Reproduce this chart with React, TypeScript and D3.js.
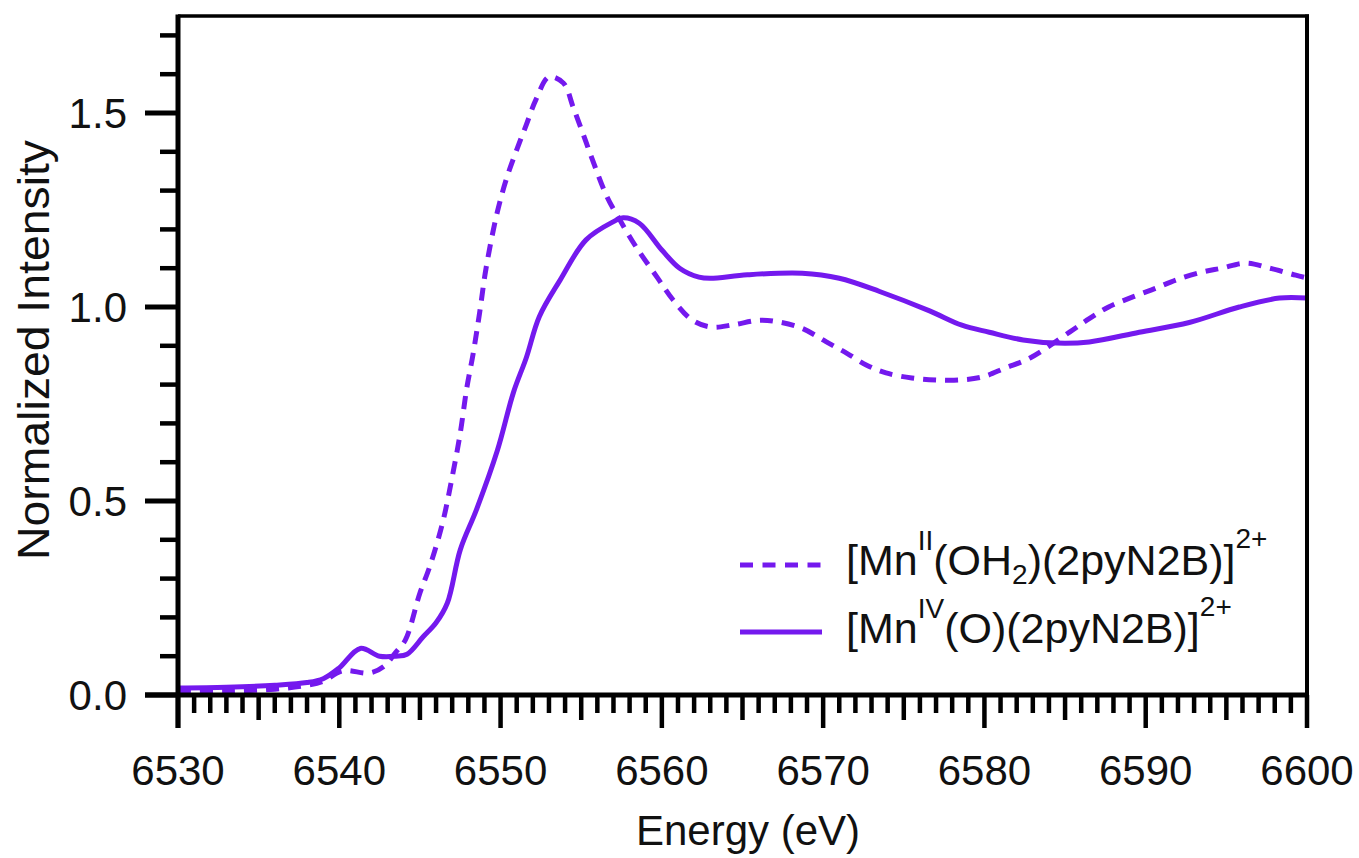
import React from "react";
import * as d3 from "d3";

// Mn K-edge XANES
const mn2Energy = [
  6530, 6533, 6536, 6538, 6539, 6540.2, 6541.9, 6542.8, 6543.5, 6544.1, 6545.0,
  6545.6, 6546.4, 6547.0, 6547.5, 6547.9, 6548.3, 6548.7, 6549.1, 6549.8, 6550.4,
  6551.0, 6551.6, 6552.2, 6553.0, 6553.9, 6554.5, 6555.1, 6555.7, 6556.6, 6557.4,
  6558.4, 6559.7, 6560.7, 6561.9, 6563.1, 6564.4, 6566.1, 6567.3, 6568.7, 6570.2,
  6571.5, 6572.7, 6573.9, 6575.5, 6577.0, 6578.5, 6579.9, 6581.3, 6582.8, 6585.3,
  6586.5, 6587.7, 6589.2, 6590.6, 6591.9, 6593.5, 6594.7, 6596.2, 6597.7, 6599.3,
  6600,
];
const mn2Intensity = [
  0.008, 0.01, 0.015, 0.025, 0.035, 0.062, 0.057, 0.075, 0.11, 0.142, 0.263,
  0.33, 0.443, 0.562, 0.675, 0.79, 0.88, 0.985, 1.1, 1.245, 1.335,
  1.405, 1.47, 1.535, 1.593, 1.577, 1.515, 1.448, 1.379, 1.284, 1.224,
  1.155, 1.077, 1.018, 0.966, 0.948, 0.954, 0.966, 0.961, 0.945, 0.91,
  0.88, 0.85, 0.83, 0.817, 0.812, 0.812, 0.82, 0.843, 0.868, 0.936,
  0.97, 1.0, 1.026, 1.048, 1.07, 1.09, 1.1, 1.113, 1.1, 1.082,
  1.075,
];

const mn4Energy = [
  6530, 6533, 6536, 6538, 6539, 6540, 6541.3, 6542.5, 6543.5, 6544.2, 6545.2,
  6546.0, 6546.7, 6547.5, 6548.5, 6549.8, 6550.8, 6551.6, 6552.4, 6553.7, 6555.3,
  6557.0, 6557.6, 6558.6, 6560.0, 6561.1, 6562.3, 6563.0, 6565.3, 6568.7, 6571.0,
  6573.5, 6576.6, 6578.6, 6580.3, 6582.4, 6584.5, 6586.5, 6589.6, 6592.7, 6595.8,
  6598.3, 6600,
];
const mn4Intensity = [
  0.018, 0.02, 0.025, 0.032, 0.042, 0.07, 0.12, 0.1, 0.1, 0.105, 0.15,
  0.186, 0.237, 0.374, 0.477, 0.63, 0.78, 0.87, 0.975, 1.07, 1.173,
  1.22, 1.23, 1.216, 1.147, 1.1, 1.077, 1.074, 1.083, 1.087, 1.074,
  1.04, 0.99, 0.953, 0.935, 0.915, 0.907, 0.91, 0.935, 0.96, 1.0,
  1.023, 1.023,
];

const xTickLabels = [6530, 6540, 6550, 6560, 6570, 6580, 6590, 6600];
const yTickLabels = [0.0, 0.5, 1.0, 1.5];

const PURPLE = "#7419ee";
const FONT = "'Liberation Sans', Arial, sans-serif";

const App = () => {
  const width = 1359;
  const height = 858;
  const left = 178;
  const right = 1307;
  const top = 16;
  const bottom = 695;

  const x = d3.scaleLinear().domain([6530, 6600]).range([left, right]);
  const y = d3.scaleLinear().domain([0, 1.75]).range([bottom, top]);

  const line = d3
    .line<[number, number]>()
    .x((d) => x(d[0]))
    .y((d) => y(d[1]))
    .curve(d3.curveCatmullRom.alpha(0.5));

  const mn2 = mn2Energy.map((e, i) => [e, mn2Intensity[i]] as [number, number]);
  const mn4 = mn4Energy.map((e, i) => [e, mn4Intensity[i]] as [number, number]);

  // minor ticks every 1 eV, medium every 5 eV
  const xMinor = d3.range(6531, 6600, 1).filter((v) => v % 5 !== 0);
  const xMid = d3.range(6535, 6600, 10);
  const yMinor = d3.range(1, 18).map((v) => v / 10).filter((v) => Math.round(v * 10) % 5 !== 0);

  return (
    <svg
      width={width}
      height={height}
      style={{ position: "absolute", left: 0, top: 0, background: "#fff" }}
      fontFamily={FONT}
    >
      {/* curves */}
      <path
        d={line(mn2) || ""}
        fill="none"
        stroke={PURPLE}
        strokeWidth={5}
        strokeDasharray="13 9"
      />
      <path
        d={line(mn4) || ""}
        fill="none"
        stroke={PURPLE}
        strokeWidth={5}
        strokeLinejoin="round"
      />

      {/* frame */}
      <line x1={left} x2={right + 2} y1={top} y2={top} stroke="#000" strokeWidth={3.5} />
      <line x1={right} x2={right} y1={top - 1.5} y2={bottom + 33} stroke="#000" strokeWidth={4} />
      <line x1={left} x2={left} y1={top - 1.5} y2={bottom + 33} stroke="#000" strokeWidth={5} />
      <line x1={left - 33} x2={right + 2} y1={bottom} y2={bottom} stroke="#000" strokeWidth={5} />

      {/* x ticks */}
      {xMinor.map((v) => (
        <line key={"xm" + v} x1={x(v)} x2={x(v)} y1={bottom} y2={bottom + 18} stroke="#000" strokeWidth={4.5} />
      ))}
      {xMid.map((v) => (
        <line key={"xd" + v} x1={x(v)} x2={x(v)} y1={bottom} y2={bottom + 25} stroke="#000" strokeWidth={4.5} />
      ))}
      {xTickLabels.map((v) => (
        <g key={"xt" + v}>
          <line x1={x(v)} x2={x(v)} y1={bottom} y2={bottom + 33} stroke="#000" strokeWidth={4.5} />
          <text x={x(v)} y={785} textAnchor="middle" fontSize={42} fill="#111">
            {v}
          </text>
        </g>
      ))}

      {/* y ticks */}
      {yMinor.map((v) => (
        <line key={"ym" + v} x1={left - 18} x2={left} y1={y(v)} y2={y(v)} stroke="#000" strokeWidth={4.5} />
      ))}
      {yTickLabels.map((v) => (
        <g key={"yt" + v}>
          <line x1={left - 33} x2={left} y1={y(v)} y2={y(v)} stroke="#000" strokeWidth={5} />
          <text x={127} y={y(v) + 15} textAnchor="end" fontSize={42} fill="#111">
            {v.toFixed(1)}
          </text>
        </g>
      ))}

      {/* axis titles */}
      <text x={748} y={845} textAnchor="middle" fontSize={42} fill="#111">
        Energy (eV)
      </text>
      <text
        transform={`translate(49, 350) rotate(-90)`}
        textAnchor="middle"
        fontSize={44}
        fill="#111"
        textLength={420}
        lengthAdjust="spacingAndGlyphs"
      >
        Normalized Intensity
      </text>

      {/* legend */}
      <line x1={740} x2={822} y1={565} y2={565} stroke={PURPLE} strokeWidth={5} strokeDasharray="13 9.5" />
      <text x={846} y={575} fontSize={43} fill="#111">
        [Mn
        <tspan dy={-25} fontSize={28}>II</tspan>
        <tspan dy={25}>(OH</tspan>
        <tspan dy={9} fontSize={28}>2</tspan>
        <tspan dy={-9}>)(2pyN2B)]</tspan>
        <tspan dy={-27} fontSize={28}>2+</tspan>
      </text>
      <line x1={740} x2={822} y1={632} y2={632} stroke={PURPLE} strokeWidth={5} />
      <text x={846} y={643} fontSize={43} fill="#111">
        [Mn
        <tspan dy={-25} fontSize={28}>IV</tspan>
        <tspan dy={25}>(O)(2pyN2B)]</tspan>
        <tspan dy={-27} fontSize={28}>2+</tspan>
      </text>
    </svg>
  );
};

export default App;
